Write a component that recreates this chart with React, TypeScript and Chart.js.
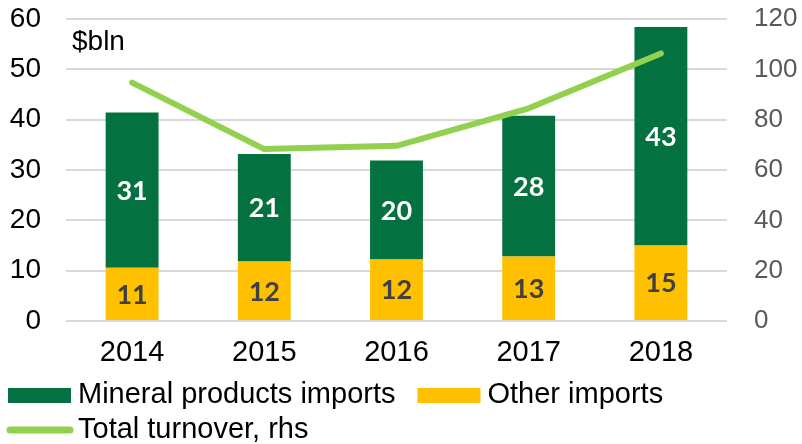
import React, { useEffect, useRef } from "react";
import { Chart, registerables } from "chart.js";

Chart.register(...registerables);

const years = ["2014", "2015", "2016", "2017", "2018"];
const mineralImports = [30.8, 21.4, 19.7, 28.0, 43.4];
const otherImports = [10.6, 11.8, 12.2, 12.8, 15.0];
const totalTurnover = [94.7, 68.3, 69.6, 84.5, 106.3];
const leftTicks = { min: 0, max: 60, step: 10 };
const rightTicks = { min: 0, max: 120, step: 20 };
const unitLabel = "$bln";

const GREEN = "#037240";
const YELLOW = "#FFC000";
const LINE = "#92D050";
const FONT = "'Liberation Sans', Arial, sans-serif";

const labelsPlugin = {
  id: "barLabels",
  afterDatasetsDraw(chart: any) {
    const ctx = chart.ctx;
    ctx.save();
    ctx.font = `bold 27px Lato, ${FONT}`;
    ctx.textAlign = "center";
    ctx.textBaseline = "middle";
    chart.data.datasets.forEach((ds: any, i: number) => {
      if (ds.type === "line") return;
      const meta = chart.getDatasetMeta(i);
      meta.data.forEach((el: any, j: number) => {
        const v = ds.data[j];
        const cy = (el.y + el.base) / 2;
        ctx.fillStyle = ds.labelColor;
        ctx.fillText(String(Math.round(v)), el.x, cy + 1);
      });
    });
    ctx.restore();
  },
};

const extrasPlugin = {
  id: "extras",
  afterDraw(chart: any) {
    const ctx = chart.ctx;
    const area = chart.chartArea;
    ctx.save();
    // unit label
    ctx.font = `28px ${FONT}`;
    ctx.fillStyle = "#000";
    ctx.textAlign = "left";
    ctx.textBaseline = "alphabetic";
    ctx.fillText(unitLabel, area.left + 6, 50);

    // legend
    const ds = chart.data.datasets;
    const mineral = ds.find((d: any) => d.key === "mineral");
    const other = ds.find((d: any) => d.key === "other");
    const total = ds.find((d: any) => d.key === "total");
    ctx.font = `29px ${FONT}`;
    ctx.fillStyle = mineral.backgroundColor;
    ctx.fillRect(8, 388, 63, 15);
    ctx.fillStyle = "#000";
    ctx.fillText(mineral.label, 78, 403);
    const w1 = ctx.measureText(mineral.label).width;
    const x2 = 78 + w1 + 22;
    ctx.fillStyle = other.backgroundColor;
    ctx.fillRect(x2, 388, 63, 15);
    ctx.fillStyle = "#000";
    ctx.fillText(other.label, x2 + 70, 403);

    ctx.strokeStyle = total.borderColor;
    ctx.lineWidth = 7;
    ctx.lineCap = "round";
    ctx.beginPath();
    ctx.moveTo(10, 430);
    ctx.lineTo(70, 430);
    ctx.stroke();
    ctx.fillStyle = "#000";
    ctx.fillText(total.label, 78, 438);
    ctx.restore();
  },
};

function zeroPad(scale: any) {
  scale.paddingTop = 0;
  scale.paddingBottom = 0;
  scale.paddingLeft = 0;
  scale.paddingRight = 0;
}

export default function App() {
  const ref = useRef<HTMLCanvasElement | null>(null);

  useEffect(() => {
    if (!ref.current) return;
    const chart = new Chart(ref.current, {
      type: "bar",
      data: {
        labels: years,
        datasets: [
          {
            type: "line",
            key: "total",
            label: "Total turnover, rhs",
            data: totalTurnover,
            yAxisID: "y1",
            borderColor: LINE,
            backgroundColor: LINE,
            borderWidth: 6,
            pointRadius: 0,
            tension: 0,
            borderCapStyle: "round",
            borderJoinStyle: "round",
            order: 0,
          } as any,
          {
            type: "bar",
            key: "other",
            label: "Other imports",
            data: otherImports,
            yAxisID: "y",
            backgroundColor: YELLOW,
            labelColor: "#404040",
            order: 1,
            barPercentage: 0.4,
            categoryPercentage: 1,
          } as any,
          {
            type: "bar",
            key: "mineral",
            label: "Mineral products imports",
            data: mineralImports,
            yAxisID: "y",
            backgroundColor: GREEN,
            labelColor: "#ffffff",
            order: 2,
            barPercentage: 0.4,
            categoryPercentage: 1,
          } as any,
        ],
      },
      options: {
        animation: false,
        responsive: false,
        devicePixelRatio: 1,
        layout: { padding: { top: 19, bottom: 73, left: 0, right: 0 } },
        plugins: {
          legend: { display: false },
          tooltip: { enabled: false },
        },
        scales: {
          x: {
            stacked: true,
            grid: { display: false, drawTicks: false },
            border: { display: false },
            ticks: {
              color: "#000",
              font: { family: FONT, size: 29 },
              padding: 15,
              maxRotation: 0,
            },
            afterFit(scale: any) {
              scale.height = 50;
              zeroPad(scale);
            },
          },
          y: {
            position: "left",
            stacked: true,
            min: leftTicks.min,
            max: leftTicks.max,
            grid: { color: "#d9d9d9", lineWidth: 2, drawTicks: false },
            border: { display: false },
            ticks: {
              stepSize: leftTicks.step,
              color: "#000",
              font: { family: FONT, size: 28 },
              padding: 25,
            },
            afterFit(scale: any) {
              scale.width = 66;
              zeroPad(scale);
            },
          },
          y1: {
            position: "right",
            min: rightTicks.min,
            max: rightTicks.max,
            grid: { display: false, drawTicks: false },
            border: { display: false },
            ticks: {
              stepSize: rightTicks.step,
              color: "#595959",
              font: { family: FONT, size: 26 },
              padding: 27,
            },
            afterFit(scale: any) {
              scale.width = 75;
              zeroPad(scale);
            },
          },
        },
      } as any,
      plugins: [labelsPlugin, extrasPlugin],
    });
    return () => chart.destroy();
  }, []);

  return (
    <div style={{ position: "fixed", left: 0, top: 0, width: 802, height: 444, background: "#fff" }}>
      <canvas ref={ref} width={802} height={444} style={{ display: "block" }} />
    </div>
  );
}
